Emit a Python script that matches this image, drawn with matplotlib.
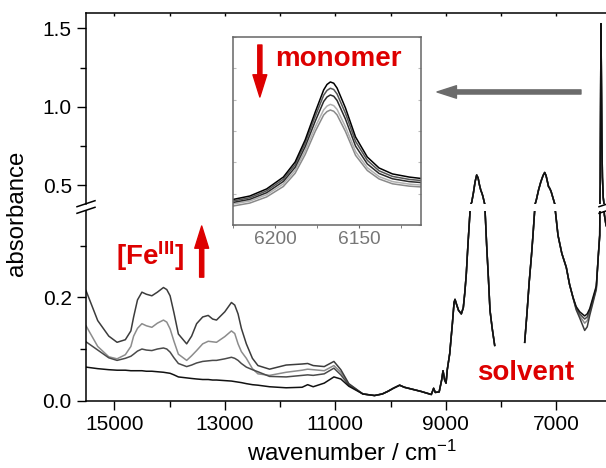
import numpy as np
import matplotlib
matplotlib.use("Agg")
import matplotlib.pyplot as plt
from matplotlib.ticker import MultipleLocator

plt.rcParams["font.family"] = ["Liberation Sans", "DejaVu Sans"]
plt.rcParams["mathtext.fontset"] = "custom"
plt.rcParams["mathtext.rm"] = "Liberation Sans"
plt.rcParams["mathtext.it"] = "Liberation Sans:italic"
plt.rcParams["mathtext.bf"] = "Liberation Sans:bold"

RED = "#dd0000"
GREY_ARROW = "#6b6b6b"

# --- NIR spectra (wavenumber in cm-1, absorbance) ---------------------------
# region where the four spectra differ (Fe(III) bands)
wn_front = [15512, 15300, 15100, 14950, 14800, 14700, 14650, 14580, 14500,
            14420, 14320, 14220, 14110, 14050, 13990, 13920, 13840, 13690,
            13600, 13510, 13400, 13300, 13220, 13150, 13000, 12880, 12820,
            12760, 12700, 12610, 12500, 12400, 12190, 11890, 11600, 11500,
            11400, 11200, 11025, 10900, 10755]
abs_front_a = [0.213, 0.155, 0.125, 0.113, 0.118, 0.135, 0.162, 0.195, 0.210,
               0.206, 0.203, 0.210, 0.219, 0.215, 0.203, 0.170, 0.129, 0.110,
               0.125, 0.149, 0.162, 0.165, 0.158, 0.156, 0.172, 0.190, 0.185,
               0.168, 0.140, 0.110, 0.082, 0.068, 0.061, 0.069, 0.071, 0.072,
               0.068, 0.066, 0.076, 0.060, 0.033]
abs_front_b = [0.145, 0.105, 0.085, 0.081, 0.089, 0.105, 0.125, 0.140, 0.149,
               0.145, 0.142, 0.150, 0.156, 0.152, 0.139, 0.115, 0.090, 0.078,
               0.087, 0.097, 0.110, 0.115, 0.114, 0.113, 0.124, 0.135, 0.130,
               0.110, 0.095, 0.082, 0.062, 0.052, 0.049, 0.055, 0.059, 0.061,
               0.060, 0.058, 0.068, 0.055, 0.032]
abs_front_c = [0.114, 0.098, 0.083, 0.078, 0.082, 0.086, 0.090, 0.096, 0.100,
               0.098, 0.097, 0.100, 0.102, 0.100, 0.094, 0.083, 0.072, 0.066,
               0.069, 0.073, 0.076, 0.077, 0.078, 0.078, 0.081, 0.084, 0.082,
               0.078, 0.072, 0.065, 0.060, 0.056, 0.047, 0.046, 0.049, 0.050,
               0.049, 0.052, 0.063, 0.050, 0.030]
abs_front_d = [0.065, 0.062, 0.060, 0.059, 0.059, 0.058, 0.058, 0.058, 0.058,
               0.057, 0.057, 0.056, 0.055, 0.054, 0.053, 0.050, 0.046, 0.044,
               0.043, 0.042, 0.041, 0.041, 0.040, 0.040, 0.039, 0.038, 0.037,
               0.036, 0.035, 0.033, 0.031, 0.030, 0.027, 0.025, 0.026, 0.031,
               0.027, 0.034, 0.046, 0.042, 0.028]

# common part up to the first solvent band
wn_band1 = [10500, 10290, 10150, 10050, 9950, 9835, 9750, 9600, 9450, 9320,
            9262, 9220, 9190, 9120, 9075, 9050, 9020, 8995, 8973, 8929, 8880,
            8850, 8833, 8810, 8770, 8719, 8683, 8655, 8629, 8600, 8562, 8531,
            8500, 8470, 8441, 8415, 8390, 8365, 8350, 8330, 8310, 8290, 8260,
            8230, 8200, 8160, 8115]
abs_band1 = [0.013, 0.010, 0.013, 0.018, 0.024, 0.030, 0.026, 0.022, 0.018,
             0.014, 0.012, 0.024, 0.016, 0.017, 0.040, 0.058, 0.040, 0.034,
             0.060, 0.091, 0.150, 0.190, 0.196, 0.188, 0.175, 0.168, 0.180,
             0.210, 0.245, 0.300, 0.365, 0.390, 0.450, 0.520, 0.564, 0.545,
             0.500, 0.465, 0.452, 0.430, 0.400, 0.370, 0.300, 0.240, 0.175,
             0.140, 0.107]

# second solvent band (saturated centre is cut out)
wn_band2 = [7572, 7530, 7490, 7450, 7422, 7390, 7362, 7320, 7280, 7240, 7210,
            7185, 7160, 7140, 7119, 7095, 7070, 7045, 7020, 6969, 6900, 6819,
            6760, 6698]
abs_band2 = [0.113, 0.170, 0.230, 0.280, 0.320, 0.370, 0.404, 0.470, 0.520,
             0.560, 0.580, 0.560, 0.520, 0.490, 0.479, 0.460, 0.430, 0.400,
             0.370, 0.320, 0.285, 0.258, 0.225, 0.200]

# window before the monomer band
wn_trough = [6640, 6576, 6486, 6440, 6395, 6336, 6276]
abs_trough_a = [0.176, 0.160, 0.136, 0.143, 0.165, 0.190, 0.215]
abs_trough_b = [0.178, 0.164, 0.150, 0.155, 0.170, 0.193, 0.217]
abs_trough_c = [0.180, 0.168, 0.158, 0.162, 0.174, 0.196, 0.219]
abs_trough_d = [0.182, 0.172, 0.164, 0.168, 0.178, 0.200, 0.222]

# monomer band
wn_peak = [6240, 6214, 6205, 6198, 6191, 6183, 6175, 6165, 6150, 6130, 6100,
           6064]
abs_peak = [0.280, 0.320, 0.500, 1.000, 1.530, 1.200, 0.800, 0.550, 0.420,
            0.360, 0.340, 0.330]

# --- inset: monomer band, decreasing with time ------------------------------
wn_inset = [6225, 6215, 6205, 6195, 6188, 6182, 6176, 6171, 6169, 6167, 6165,
            6163, 6158, 6152, 6145, 6138, 6130, 6120, 6113]
inset_1 = [0.763, 0.785, 0.830, 0.906, 1.002, 1.143, 1.321, 1.462, 1.497,
           1.513, 1.505, 1.474, 1.347, 1.162, 1.034, 0.964, 0.926, 0.906,
           0.897]
inset_2 = [0.753, 0.774, 0.818, 0.892, 0.985, 1.122, 1.294, 1.428, 1.459,
           1.473, 1.465, 1.436, 1.313, 1.134, 1.013, 0.946, 0.910, 0.891,
           0.884]
inset_3 = [0.744, 0.764, 0.806, 0.878, 0.968, 1.100, 1.263, 1.388, 1.417,
           1.430, 1.422, 1.395, 1.276, 1.104, 0.990, 0.929, 0.895, 0.877,
           0.871]
inset_4 = [0.734, 0.753, 0.793, 0.862, 0.948, 1.073, 1.226, 1.335, 1.359,
           1.370, 1.362, 1.338, 1.227, 1.069, 0.966, 0.909, 0.877, 0.861,
           0.855]
inset_5 = [0.721, 0.740, 0.779, 0.846, 0.930, 1.050, 1.198, 1.302, 1.324,
           1.334, 1.326, 1.303, 1.197, 1.045, 0.948, 0.894, 0.863, 0.848,
           0.843]


def build_spectrum(front, trough):
    x = wn_front + wn_band1 + [7850] + wn_band2 + wn_trough + wn_peak
    y = front + abs_band1 + [np.nan] + abs_band2 + trough + abs_peak
    return np.array(x, float), np.array(y, float)


spectra = [
    (abs_front_b, abs_trough_b, "#8c8c8c"),
    (abs_front_c, abs_trough_c, "#4a4a4a"),
    (abs_front_a, abs_trough_a, "#3c3c3c"),
    (abs_front_d, abs_trough_d, "#111111"),
]

W, H = 606, 468


def px_rect(left, top, right, bottom):
    return [left / W, 1 - bottom / H, (right - left) / W, (bottom - top) / H]


fig = plt.figure(figsize=(W / 100, H / 100), dpi=100)
ax_lo = fig.add_axes(px_rect(86, 210.5, 608, 400.7))
ax_hi = fig.add_axes(px_rect(86, 13, 608, 204))

for ax in (ax_lo, ax_hi):
    for front, trough, color in spectra:
        x, y = build_spectrum(front, trough)
        ax.plot(x, y, color=color, lw=1.1)
    ax.set_xlim(15512, 6064)
    ax.spines["right"].set_visible(False)
    for s in ax.spines.values():
        s.set_linewidth(1.1)
    ax.tick_params(which="major", length=6.2, width=1.0, labelsize=15, pad=4)
    ax.tick_params(which="minor", length=4.3, width=1.0)
    ax.yaxis.set_minor_locator(MultipleLocator(0.1 if ax is ax_lo else 0.25))

ax_lo.set_ylim(0, 0.368)
ax_lo.yaxis.set_major_locator(MultipleLocator(0.2))
ax_lo.yaxis.set_major_formatter(plt.FormatStrFormatter("%.1f"))
ax_lo.xaxis.set_minor_locator(MultipleLocator(1000))
ax_lo.set_xticks([15000, 13000, 11000, 9000, 7000])
ax_lo.spines["top"].set_visible(False)

ax_hi.set_ylim(0.379, 1.598)
ax_hi.yaxis.set_major_locator(MultipleLocator(0.5))
ax_hi.yaxis.set_major_formatter(plt.FormatStrFormatter("%.1f"))
ax_hi.spines["bottom"].set_visible(False)
ax_hi.xaxis.set_minor_locator(MultipleLocator(1000))
ax_hi.tick_params(axis="x", which="both", bottom=False, labelbottom=False,
                  top=True, direction="in", length=2)

# break marks on the y axis
for xpix in (86, 608):
    for ypix in (203.7, 210.3):
        fig.add_artist(plt.Line2D([(xpix - 9) / W, (xpix + 9) / W],
                                  [1 - (ypix + 3) / H, 1 - (ypix - 3) / H],
                                  color="black", lw=1.1))

# annotations
ax_hi.annotate("", xy=(9159, 1.094), xytext=(6553, 1.094),
               arrowprops=dict(facecolor=GREY_ARROW, edgecolor=GREY_ARROW,
                               width=3, headwidth=9, headlength=14, shrink=0))
ax_lo.annotate("", xy=(13418, 0.338), xytext=(13418, 0.239),
               arrowprops=dict(facecolor=RED, edgecolor=RED,
                               width=3, headwidth=10, headlength=16, shrink=0))
ax_lo.text(14356, 0.263, r"[Fe$^{\mathbf{III}}$]", color=RED, fontsize=20,
           fontweight="bold", ha="center", va="baseline")
ax_lo.text(7549, 0.041, "solvent", color=RED, fontsize=20,
           fontweight="bold", ha="center", va="baseline")

fig.text(17 / W, 1 - 213.5 / H, "absorbance", rotation=90, fontsize=17.3,
         ha="center", va="center")
fig.text(247 / W, 1 - 461 / H, "wavenumber / cm$^{-1}$", fontsize=17.3,
         ha="left", va="baseline")

# inset
ax_in = fig.add_axes(px_rect(233, 37, 421, 225))
inset_style = [
    (inset_5, "#8a8a8a"),
    (inset_4, "#b0b0b0"),
    (inset_3, "#2a2a2a"),
    (inset_2, "#555555"),
    (inset_1, "#000000"),
]
for vals, color in inset_style:
    ax_in.plot(wn_inset, vals, color=color, lw=1.1)
ax_in.set_xlim(6225, 6113)
ax_in.set_ylim(0.6, 1.8)
for s in ax_in.spines.values():
    s.set_color("#666666")
    s.set_linewidth(1.1)
ax_in.xaxis.set_major_locator(MultipleLocator(50))
ax_in.xaxis.set_minor_locator(MultipleLocator(25))
ax_in.yaxis.set_major_locator(MultipleLocator(0.2))
ax_in.tick_params(axis="x", which="both", colors="#666666", labelcolor="#777777",
                  labelsize=13.8, length=2.5, pad=2)
ax_in.tick_params(axis="y", which="both", left=True, right=True, direction="in",
                  length=2, colors="#bbbbbb", labelleft=False)
ax_in.annotate("", xy=(6209, 1.417), xytext=(6209, 1.749),
               arrowprops=dict(facecolor=RED, edgecolor=RED,
                               width=3, headwidth=10, headlength=16, shrink=0))
ax_in.text(6200, 1.615, "monomer", color=RED, fontsize=20, fontweight="bold",
           ha="left", va="baseline")

fig.savefig("out.png", dpi=100)
